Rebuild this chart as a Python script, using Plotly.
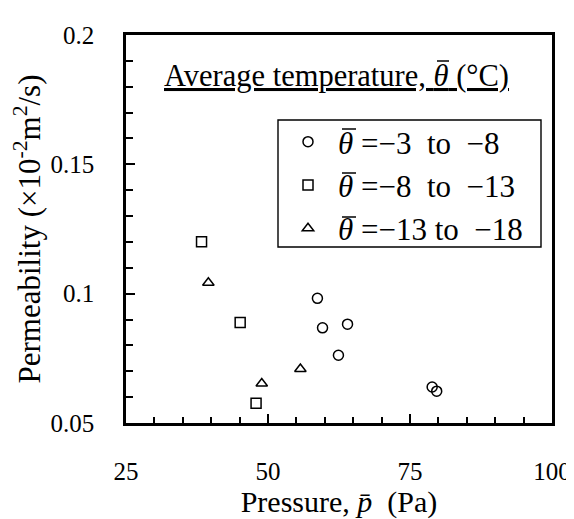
import plotly.graph_objects as go

# Data
circ_p = [58.7, 59.6, 64.0, 62.4, 78.9, 79.7]
circ_k = [0.0982, 0.0868, 0.0882, 0.0762, 0.0639, 0.0623]
sq_p = [38.3, 45.1, 47.9]
sq_k = [0.1201, 0.0889, 0.0576]
tri_p = [39.5, 48.9, 55.7]
tri_k = [0.1042, 0.0653, 0.0709]

TH = "<i>θ</i>"
names = [TH + " =−3  to  −8", TH + " =−8  to  −13", TH + " =−13 to  −18"]
x_ticks = [25, 50, 75, 100]
y_ticks = [0.05, 0.1, 0.15, 0.2]
y_ticklabels = ["0.05", "0.1", "0.15", "0.2"]

FONT = "Liberation Serif"

# plot area in the reference picture (pixels)
PX0, PX1, PY0, PY1 = 126, 552, 35, 423
def px(x):
    return (x - PX0) / (PX1 - PX0)
def py(y):
    return (PY1 - y) / (PY1 - PY0)

fig = go.Figure()
for i, (xs, ys, sym, nm) in enumerate([(circ_p, circ_k, "circle-open", names[0]),
                                       (sq_p, sq_k, "square-open", names[1]),
                                       (tri_p, tri_k, "triangle-up-open", names[2])]):
    fig.add_trace(go.Scatter(x=xs, y=ys, mode="markers", name=nm, legendgroup=str(i),
                             marker=dict(symbol=sym, size=10, color="black",
                                         line=dict(width=1.5, color="black"))))

# overbars for theta (typographic decoration) and the legend frame
bars = [(437, 449, 61), (342, 356, 129), (342, 356, 173), (342, 356, 217)]
shapes = [dict(type="line", xref="paper", yref="paper", x0=px(a), x1=px(b), y0=py(c), y1=py(c),
               layer="above", line=dict(color="black", width=1.5)) for a, b, c in bars]
shapes.append(dict(type="rect", xref="paper", yref="paper", x0=px(278), x1=px(541),
                   y0=py(247), y1=py(120), layer="above",
                   line=dict(color="black", width=1.4), fillcolor="rgba(0,0,0,0)"))

fig.update_layout(
    width=574, height=519,
    margin=dict(l=118, r=30, t=27, b=104),
    paper_bgcolor="white", plot_bgcolor="white",
    font=dict(family=FONT, size=25, color="black"),
    showlegend=True,
    legend=dict(x=px(278), y=py(115), xanchor="left", yanchor="top",
                borderwidth=0, bgcolor="rgba(0,0,0,0)",
                font=dict(family=FONT, size=31), itemsizing="trace",
                tracegroupgap=0, itemwidth=50),
    shapes=shapes,
    annotations=[dict(text="<u>Average temperature, " + TH + " (°C)</u>",
                      xref="paper", yref="paper", x=px(336), y=py(76),
                      xanchor="center", yanchor="middle",
                      showarrow=False, font=dict(family=FONT, size=30.5))],
)

fig.update_xaxes(range=[25, 100], tickvals=x_ticks, ticktext=[str(v) for v in x_ticks],
                 ticks="inside", ticklen=9, tickwidth=2, tickcolor="black",
                 minor=dict(dtick=5, tick0=25, ticks="inside", ticklen=6, tickwidth=1.5, tickcolor="black"),
                 showline=True, linewidth=2.5, linecolor="black", mirror=True,
                 showgrid=False, zeroline=False, ticklabelstandoff=24,
                 title=dict(text="Pressure, <i>p̄</i>  (Pa)", font=dict(family=FONT, size=30), standoff=1))
fig.update_yaxes(range=[0.05, 0.2], tickvals=y_ticks, ticktext=y_ticklabels,
                 ticks="inside", ticklen=9, tickwidth=2, tickcolor="black",
                 minor=dict(dtick=0.01, tick0=0.05, ticks="inside", ticklen=7, tickwidth=1.5, tickcolor="black"),
                 showline=True, linewidth=2.5, linecolor="black", mirror=True,
                 showgrid=False, zeroline=False, ticklabelstandoff=24,
                 title=dict(text="Permeability (×10<sup>-2</sup>m<sup>2</sup>/s)",
                            font=dict(family=FONT, size=31), standoff=5))

fig.write_html("out.html")
